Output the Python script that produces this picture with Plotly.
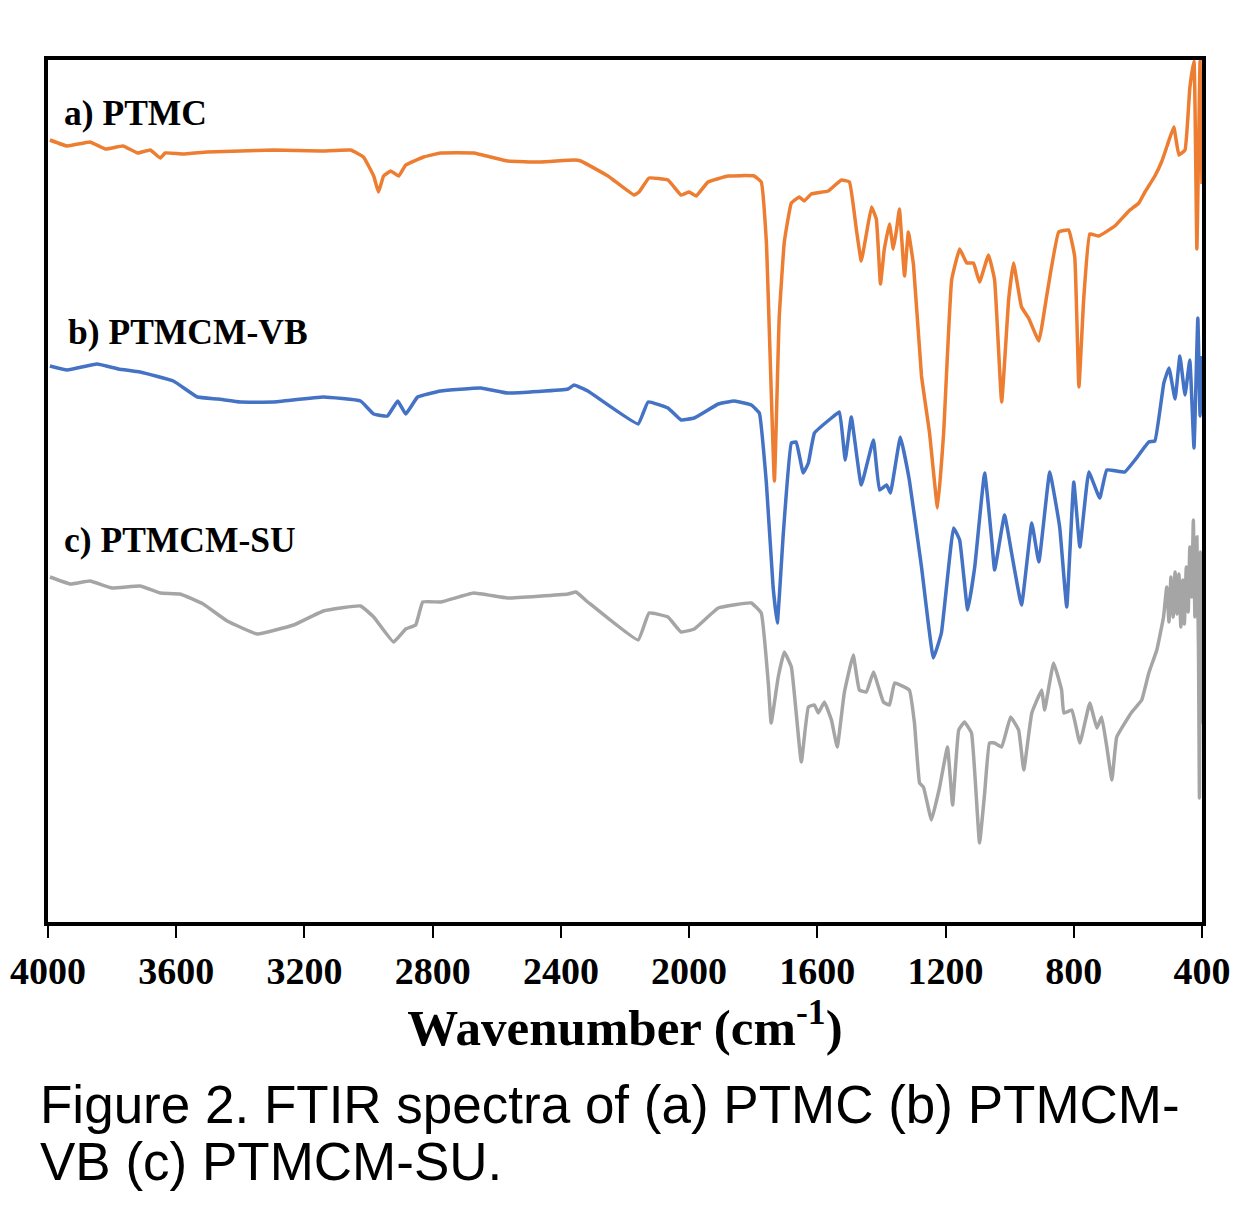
import plotly.graph_objects as go

# Wavenumber (cm-1) and transmittance (arbitrary, stacked)
ptmc_wn = [3994, 3940, 3869, 3820, 3766, 3720, 3681, 3650, 3634, 3580, 3503, 3400, 3297, 3150, 3056, 3016, 2984, 2969, 2953,
           2931, 2906, 2884, 2828, 2775, 2672, 2566, 2463, 2359, 2338, 2253, 2172, 2156, 2125, 2066, 2025,
           2000, 1978, 1941, 1878, 1797, 1775, 1759, 1734, 1719, 1703, 1681, 1656, 1641, 1619, 1566, 1525,
           1500, 1478, 1463, 1447, 1431, 1416, 1403, 1391, 1375, 1363, 1353, 1344, 1328, 1316, 1300, 1275,
           1250, 1225, 1206, 1181, 1156, 1134, 1113, 1094, 1066, 1047, 1025, 1003, 988, 963, 941, 909, 884,
           847, 816, 797, 784, 769, 750, 722, 672, 628, 597, 578, 547, 525, 509, 488, 472, 453, 438, 425,
           416, 406, 400]
ptmc_t = [78.2, 77.6, 78.0, 77.3, 77.6, 76.9, 77.2, 76.4, 76.9, 76.8, 77.0, 77.1, 77.2, 77.1, 77.2, 76.5, 74.6, 73.0, 74.6,
          75.1, 74.6, 75.7, 76.5, 76.9, 76.9, 76.1, 76.0, 76.2, 76.1, 74.6, 72.7, 73.0, 74.4, 74.2, 72.7,
          73.0, 72.6, 74.0, 74.6, 74.6, 74.0, 68.0, 44.1, 60.4, 68.0, 71.9, 72.5, 72.1, 72.8, 73.1, 74.2,
          74.0, 69.2, 66.1, 68.8, 71.5, 70.3, 63.8, 67.3, 69.8, 67.3, 69.2, 71.3, 64.6, 69.0, 65.7, 54.6,
          48.9, 41.4, 48.9, 64.2, 67.3, 65.9, 65.9, 64.0, 66.7, 64.2, 52.0, 62.3, 65.9, 61.5, 60.4, 58.1, 62.7,
          69.0, 69.2, 66.5, 53.5, 62.3, 68.8, 68.6, 69.6, 71.1, 71.9, 73.0, 74.6, 76.1, 77.6, 79.5, 76.7, 77.2, 83.4, 86.1,
          67.3, 86.1, 73.8]

vb_wn = [3994, 3940, 3847, 3780, 3713, 3609, 3534, 3470, 3400, 3297, 3141, 3025, 2984, 2941, 2909, 2884, 2847, 2775, 2650,
         2566, 2378, 2359, 2316, 2159, 2128, 2066, 2025, 1984, 1909, 1859, 1806, 1781, 1759, 1738, 1725,
         1706, 1681, 1666, 1644, 1628, 1609, 1556, 1531, 1513, 1494, 1463, 1425, 1406, 1384, 1372, 1341,
         1313, 1275, 1238, 1213, 1175, 1156, 1131, 1109, 1078, 1056, 1047, 1016, 994, 963, 931, 909, 875,
         844, 822, 800, 781, 753, 719, 697, 641, 609, 566, 547, 519, 503, 484, 469, 453, 438, 425, 413,
         406, 400]
vb_t = [55.6, 55.2, 55.8, 55.3, 55.0, 54.1, 52.5, 52.3, 52.0, 52.0, 52.5, 52.1, 50.8, 50.6, 52.1, 50.8, 52.5, 53.1, 53.4,
        52.9, 53.3, 53.7, 53.1, 49.8, 52.0, 51.4, 50.2, 50.4, 51.8, 52.1, 51.7, 50.9, 43.9, 33.5, 29.9,
        38.9, 47.9, 48.0, 44.9, 45.9, 48.9, 50.4, 51.0, 46.2, 50.5, 43.7, 48.2, 43.2, 43.7, 42.9, 48.5,
        44.2, 35.5, 26.4, 28.9, 39.4, 38.2, 31.2, 35.5, 44.9, 38.2, 35.2, 40.7, 36.9, 31.7, 39.9, 36.0, 45.0,
        39.5, 31.5, 44.0, 37.5, 45.0, 42.4, 45.2, 45.0, 46.2, 48.0, 48.1, 53.9, 55.4, 52.3, 56.6, 52.7, 56.2, 47.4, 60.4,
        50.6, 56.6]

su_wn = [3994, 3930, 3869, 3800, 3713, 3650, 3588, 3516, 3441, 3347, 3234, 3141, 3025, 2984, 2922, 2884, 2853, 2831,
         2775, 2672, 2566, 2378, 2353, 2316, 2159, 2125, 2066, 2025, 1984, 1909, 1806, 1775, 1753, 1744,
         1722, 1703, 1681, 1650, 1628, 1609, 1597, 1578, 1556, 1538, 1516, 1488, 1469, 1447, 1425, 1394,
         1375, 1359, 1313, 1297, 1281, 1269, 1244, 1219, 1194, 1178, 1159, 1141, 1119, 1094, 1078, 1063,
         1047, 1025, 997, 972, 956, 931, 900, 891, 863, 838, 831, 806, 781, 750, 728, 713, 697, 681, 666,
         619, 588, 566, 541, 520, 510, 503, 497, 490, 484, 478, 472, 466, 460, 455, 449, 443, 438, 432,
         427, 422, 416, 411, 408, 405, 402, 400]
su_t = [34.5, 33.8, 34.1, 33.4, 33.6, 32.9, 32.8, 31.8, 30.1, 28.8, 29.7, 31.1, 31.6, 30.5, 28.0, 29.3, 29.7, 32.0,
        32.0, 32.9, 32.4, 32.8, 33.0, 32.0, 28.2, 30.9, 30.5, 29.0, 29.3, 31.4, 31.9, 30.9, 23.9, 19.9,
        24.5, 27.0, 25.5, 16.0, 21.5, 21.7, 20.9, 22.0, 20.2, 17.5, 22.9, 26.7, 23.2, 23.0, 25.0, 22.0,
        21.7, 23.9, 23.2, 19.9, 13.9, 13.5, 10.2, 13.4, 17.5, 11.7, 19.2, 20.0, 18.9, 7.9, 12.9, 17.9,
        17.9, 17.5, 20.5, 19.2, 15.2, 20.9, 23.2, 21.2, 25.9, 23.2, 20.9, 21.2, 17.9, 21.9, 19.4, 20.5, 17.5, 14.2, 18.5,
        21.0, 22.2, 24.9, 27.2, 30.5, 33.5, 30.0, 34.5, 30.5, 35.0, 30.8, 34.8, 29.5, 34.2, 29.8, 35.5, 31.0, 37.5, 32.5,
        40.2, 30.5, 38.5, 27.5, 12.4, 37.0, 20.0, 36.0]

x_ticks = [4000, 3600, 3200, 2800, 2400, 2000, 1600, 1200, 800, 400]
labels = ["a) PTMC", "b) PTMCM-VB", "c) PTMCM-SU"]
caption_lines = ["Figure 2. FTIR spectra of (a) PTMC (b) PTMCM-", "VB (c) PTMCM-SU."]

colors = ["#ED7D31", "#4472C4", "#A5A5A5"]
serif = "Liberation Serif"

fig = go.Figure()
for wn, t, c, name in [(ptmc_wn, ptmc_t, colors[0], labels[0]),
                       (vb_wn, vb_t, colors[1], labels[1]),
                       (su_wn, su_t, colors[2], labels[2])]:
    fig.add_trace(go.Scatter(x=wn, y=t, mode="lines", name=name,
                             line=dict(color=c, width=3.5, shape="spline", smoothing=0.3)))

# page body adds an 8px margin, so the figure is sized and offset to compensate
fig.update_layout(
    width=1234, height=1207,
    margin=dict(l=40, r=40, t=52, b=293),
    paper_bgcolor="white", plot_bgcolor="white",
    showlegend=False,
)
fig.update_xaxes(
    range=[4000, 400], tickvals=x_ticks, ticktext=[str(v) for v in x_ticks],
    automargin=False,
    showline=True, linecolor="black", linewidth=4, mirror=True,
    ticks="outside", ticklen=12, tickwidth=2, tickcolor="black",
    showgrid=False, zeroline=False,
    tickfont=dict(family=serif, size=38, color="black", weight="bold"),
    title=dict(text="Wavenumber (cm<sup>-1</sup>)", standoff=20,
               font=dict(family=serif, size=51, color="black", weight="bold")),
)
fig.update_yaxes(
    range=[0, 86.2], showticklabels=False, ticks="", automargin=False,
    showline=True, linecolor="black", linewidth=4, mirror=True,
    showgrid=False, zeroline=False,
)

label_pos = [(0.012, 0.9385), (0.0156, 0.6845), (0.012, 0.443)]
for (xp, yp), txt in zip(label_pos, labels):
    fig.add_annotation(x=xp, y=yp, xref="paper", yref="paper", text=txt, showarrow=False,
                       xanchor="left", yanchor="middle",
                       font=dict(family=serif, size=35.5, color="black", weight="bold"))

for i, line in enumerate(caption_lines):
    fig.add_annotation(x=-0.0087, y=-0.212 - i * 0.066, xref="paper", yref="paper", text=line,
                       showarrow=False, xanchor="left", yanchor="middle",
                       font=dict(family="Liberation Sans", size=53, color="black"))

fig.write_html("out.html")
